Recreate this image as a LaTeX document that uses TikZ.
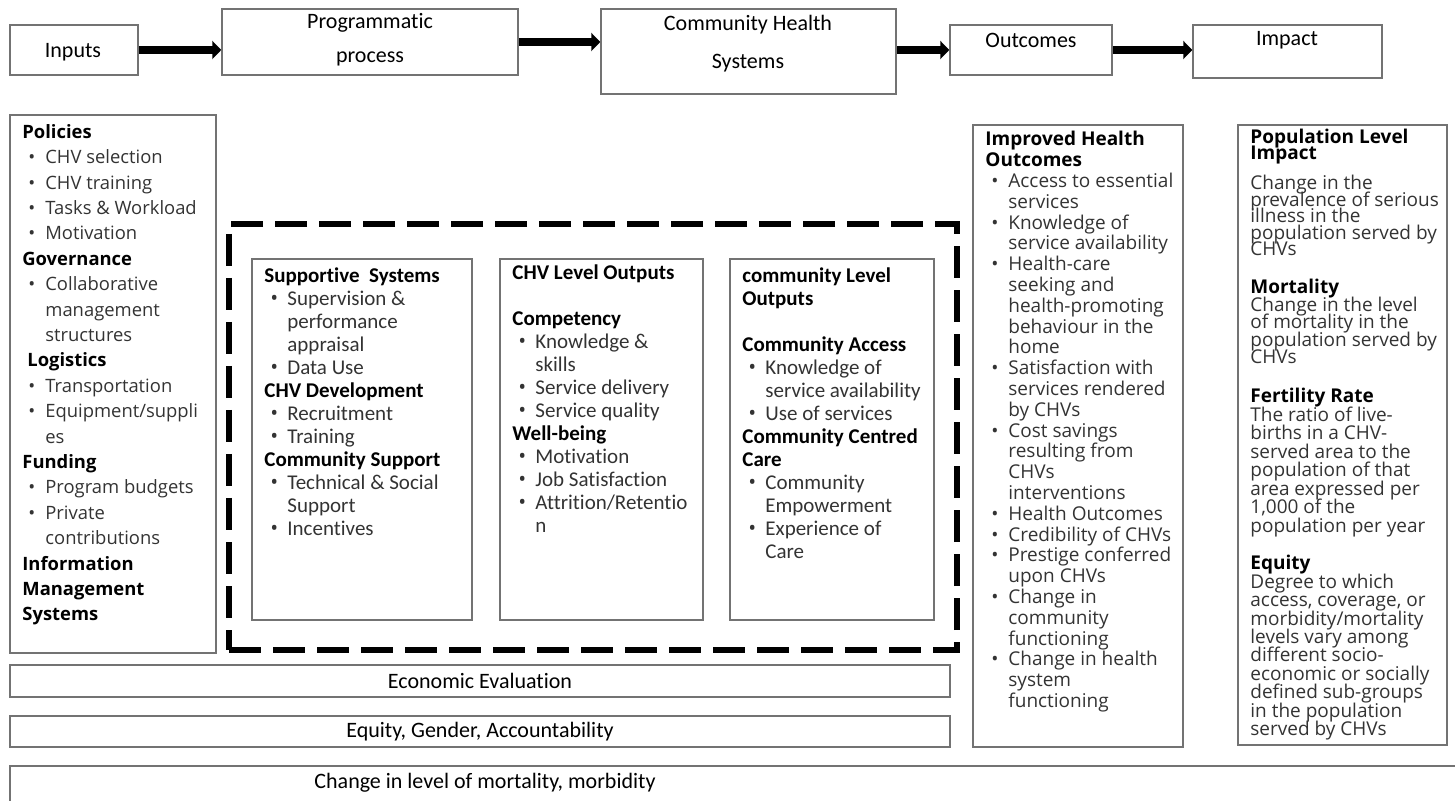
\documentclass[tikz,border=0pt]{standalone}
\usepackage{fontspec}
\setmainfont{Open Sans}
\newfontfamily\calibri[Ligatures=NoCommon]{Carlito}
\usepackage{tikz}
\usetikzlibrary{arrows.meta, positioning, fit}

% headings and bullet lines inside the panels
\newcommand\hd[1]{\textbf{\color{black}#1}}
\newcommand\bl[1]{\hspace*{3pt}\makebox[8.5pt][l]{\normalfont\textbullet}#1}
\newcommand\ct[1]{\hspace*{11.5pt}#1}
% lines may touch in the narrow columns
\newcommand\tight{\lineskiplimit=-20pt\lineskip=0pt\relax}

\tikzset{
  stage/.style={draw=black!55, line width=0.75pt, inner sep=0pt},
  stagelbl/.style={inner sep=0pt, align=center, font=\calibri\fontsize{11}{17}\selectfont},
  panel/.style={draw=black!55, line width=0.75pt, inner sep=0pt},
  band/.style={draw=black!55, line width=0.75pt, inner sep=0pt},
  bandlbl/.style={inner sep=0pt, font=\calibri\fontsize{11}{13}\selectfont},
  txt/.style={anchor=north west, align=left, inner sep=0pt, text=black!80},
  flow/.style={line width=4pt, -{Triangle[length=4.5pt, width=9pt]}},
  frame/.style={draw, line width=3pt, dash pattern=on 16pt off 6pt, line join=miter, inner sep=0pt},
}

\begin{document}
\begin{tikzpicture}[x=0.5pt, y=-0.5pt]
  \useasboundingbox (0,0) rectangle (1455,801);
  \clip (0,0) rectangle (1455,801);

  % Stages along the top
  \node[stage, fit={(10,25) (138,75)}] (inputs) {};
  \node[stage, fit={(222,9) (518,75)}] (prog) {};
  \node[stage, fit={(601,9) (896,94)}] (chs) {};
  \node[stage, fit={(950,25) (1112,75)}] (outc) {};
  \node[stage, fit={(1193,25) (1382,78)}] (impact) {};

  \node[stagelbl] (inputsl) at (73,52) {Inputs};
  \node[stagelbl] (progl) at (370,40) {Programmatic\\process};
  \node[stagelbl, font=\calibri\fontsize{11}{19}\selectfont] (chsl) at (748,44) {Community Health\\Systems};
  \node[stagelbl] (outcl) at (1031,40) {Outcomes};
  \node[stagelbl] (impactl) at (1287,40) {Impact};

  \draw[flow] (inputs.east) -- (inputs.east -| prog.west);
  \draw[flow] (prog.east) -- (prog.east -| chs.west);
  \draw[flow] (outc.west -| chs.east) -- (outc.west);
  \draw[flow] (outc.east) -- (outc.east -| impact.west);

  % Inputs
  \node[panel, fit={(10,115) (216,653)}] (inbox) {};
  \node[txt, font=\fontsize{9.2}{12.7}\selectfont] (intxt) at (22,124) {%
    \hd{Policies}\\
    \bl{CHV selection}\\
    \bl{CHV training}\\
    \bl{Tasks \& Workload}\\
    \bl{Motivation}\\
    \hd{Governance}\\
    \bl{Collaborative}\\
    \ct{management}\\
    \ct{structures}\\
    \hspace*{2.5pt}\hd{Logistics}\\
    \bl{Transportation}\\
    \bl{Equipment/suppli}\\
    \ct{es}\\
    \hd{Funding}\\
    \bl{Program budgets}\\
    \bl{Private}\\
    \ct{contributions}\\
    \hd{Information}\\
    \hd{Management}\\
    \hd{Systems}};

  % Community health system, dashed frame with three panels
  \node[frame, fit={(229,224) (957,650)}] (chsframe) {};

  \node[panel, fit={(252,259) (472,620)}] (supp) {};
  \node[txt, font=\calibri\fontsize{10.5}{11.5}\selectfont] (supptxt) at (264,267) {%
    \hd{Supportive\ \ Systems}\\
    \bl{Supervision \&}\\
    \ct{performance}\\
    \ct{appraisal}\\
    \bl{Data Use}\\
    \hd{CHV Development}\\
    \bl{Recruitment}\\
    \bl{Training}\\
    \hd{Community Support}\\
    \bl{Technical \& Social}\\
    \ct{Support}\\
    \bl{Incentives}};

  \node[panel, fit={(500,259) (703,620)}] (chvout) {};
  \node[txt, font=\calibri\fontsize{10.5}{11.5}\selectfont] (chvtxt) at (512,264) {%
    \hd{CHV Level Outputs}\\[11.5pt]
    \hd{Competency}\\
    \bl{Knowledge \&}\\
    \ct{skills}\\
    \bl{Service delivery}\\
    \bl{Service quality}\\
    \hd{Well-being}\\
    \bl{Motivation}\\
    \bl{Job Satisfaction}\\
    \bl{Attrition/Retentio}\\
    \ct{n}};

  \node[panel, fit={(730,259) (934,620)}] (commout) {};
  \node[txt, font=\calibri\fontsize{10.5}{11.5}\selectfont] (commtxt) at (742,267) {%
    \hd{community Level}\\
    \hd{Outputs}\\[11.5pt]
    \hd{Community Access}\\
    \bl{Knowledge of}\\
    \ct{service availability}\\
    \bl{Use of services}\\
    \hd{Community Centred}\\
    \hd{Care}\\
    \bl{Community}\\
    \ct{Empowerment}\\
    \bl{Experience of}\\
    \ct{Care}};

  % Outcomes
  \node[panel, fit={(973,125) (1183,747)}] (outbox) {};
  \node[txt, font=\fontsize{9.5}{10.4}\selectfont\tight] (outtxt) at (985,131) {%
    \hd{Improved Health}\\
    \hd{Outcomes}\\
    \bl{Access to essential}\\
    \ct{services}\\
    \bl{Knowledge of}\\
    \ct{service availability}\\
    \bl{Health-care}\\
    \ct{seeking and}\\
    \ct{health-promoting}\\
    \ct{behaviour in the}\\
    \ct{home}\\
    \bl{Satisfaction with}\\
    \ct{services rendered}\\
    \ct{by CHVs}\\
    \bl{Cost savings}\\
    \ct{resulting from}\\
    \ct{CHVs}\\
    \ct{interventions}\\
    \bl{Health Outcomes}\\
    \bl{Credibility of CHVs}\\
    \bl{Prestige conferred}\\
    \ct{upon CHVs}\\
    \bl{Change in}\\
    \ct{community}\\
    \ct{functioning}\\
    \bl{Change in health}\\
    \ct{system}\\
    \ct{functioning}};

  % Impact
  \node[panel, fit={(1238,125) (1447,745)}] (impbox) {};
  \node[txt, font=\fontsize{9.5}{8}\selectfont\tight] (imphd) at (1250,129) {%
    \hd{Population Level}\\
    \hd{Impact}};
  \node[txt, font=\fontsize{9.5}{8.2}\selectfont\tight] (illness) at (1250,175) {%
    Change in the\\
    prevalence of serious\\
    illness in the\\
    population served by\\
    CHVs};
  \node[txt, font=\fontsize{9.5}{8.75}\selectfont\tight] (mort) at (1250,279) {%
    \hd{Mortality}\\
    Change in the level\\
    of mortality in the\\
    population served by\\
    CHVs};
  \node[txt, font=\fontsize{9.5}{9.25}\selectfont\tight] (fert) at (1250,388) {%
    \hd{Fertility Rate}\\
    The ratio of live-\\
    births in a CHV-\\
    served area to the\\
    population of that\\
    area expressed per\\
    1,000 of the\\
    population per year};
  \node[txt, font=\fontsize{9.5}{9.2}\selectfont\tight] (equ) at (1250,555) {%
    \hd{Equity}\\
    Degree to which\\
    access, coverage, or\\
    morbidity/mortality\\
    levels vary among\\
    different socio-\\
    economic or socially\\
    defined sub-groups\\
    in the population\\
    served by CHVs};

  % Cross-cutting bands
  \node[band, fit={(10,665) (950,697)}] (econ) {};
  \node[bandlbl] (econl) at (econ) {Economic Evaluation};
  \node[band, fit={(10,716) (950,747)}] (equity) {};
  \node[bandlbl] (equityl) at (equity) {Equity, Gender, Accountability};
  \node[band, fit={(10,766) (1480,830)}] (change) {};
  \node[bandlbl] (changel) at (485,783) {Change in level of mortality, morbidity};
\end{tikzpicture}
\end{document}
